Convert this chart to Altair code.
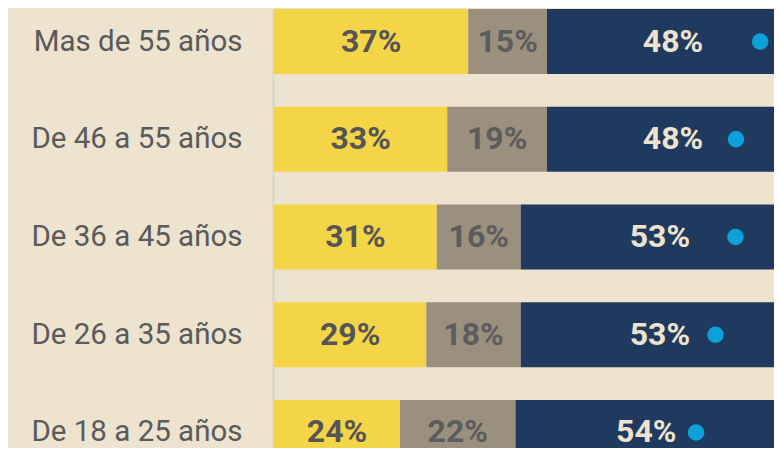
import altair as alt
import pandas as pd

categories = ["Mas de 55 años", "De 46 a 55 años", "De 36 a 45 años",
              "De 26 a 35 años", "De 18 a 25 años"]
series = ["Serie 1", "Serie 2", "Serie 3"]
serie1 = [37, 33, 31, 29, 24]
serie2 = [15, 19, 16, 18, 22]
serie3 = [48, 48, 53, 53, 54]
marker = [92.6, 88.0, 87.9, 84.1, 80.4]

colors = ["#F5D548", "#9B8F7E", "#1F3A5E"]
label_colors = ["#555555", "#5C5C5C", "#EDE3CE"]

rows = []
for i, cat in enumerate(categories):
    start = 0
    for s, vals in zip(series, [serie1, serie2, serie3]):
        v = vals[i]
        end = start + v
        center = (start + end) / 2
        if s == series[-1]:
            center = min(center, marker[i] - 9.5)
        rows.append({"category": cat, "series": s, "value": v, "start": start,
                     "end": end, "label_x": center, "label": f"{v}%"})
        start = end
df = pd.DataFrame(rows)
dots = pd.DataFrame({"category": categories, "marker": marker})

xscale = alt.Scale(domain=[0, 100], range=[0, 525])
yenc = alt.Y(
    "category:N", sort=categories,
    scale=alt.Scale(range=[1, 457], paddingInner=0.335, paddingOuter=0),
    axis=alt.Axis(title=None, ticks=False, domain=True, domainColor="#D9D5CC",
                  domainWidth=2, offset=1, labelFont="Roboto", labelFontSize=29.5,
                  labelColor="#5A5A5A", labelPadding=31, labelLimit=400, grid=False),
)

bars = alt.Chart(df).mark_bar().encode(
    x=alt.X("start:Q", scale=xscale, axis=None),
    x2="end:Q",
    y=yenc,
    color=alt.Color("series:N", scale=alt.Scale(domain=series, range=colors), legend=None),
)

texts = alt.Chart(df).mark_text(font="Roboto", fontWeight="bold", fontSize=32,
                                baseline="middle", align="center").encode(
    x=alt.X("label_x:Q", scale=xscale, axis=None),
    y=yenc,
    text="label:N",
    color=alt.Color("series:N", scale=alt.Scale(domain=series, range=label_colors), legend=None),
)

points = alt.Chart(dots).mark_circle(size=275, color="#0EA0D8", opacity=1).encode(
    x=alt.X("marker:Q", scale=xscale, axis=None),
    y=yenc,
)

chart = alt.layer(bars, texts, points).resolve_scale(color="independent").properties(
    width=500, height=440,
    autosize=alt.AutoSizeParams(type="none"),
    padding={"left": 266, "top": 0, "right": 0, "bottom": 0},
    background="#EDE3CE",
).configure_view(stroke=None)

chart.save("out.html", embed_options={"renderer": "svg", "actions": False})
